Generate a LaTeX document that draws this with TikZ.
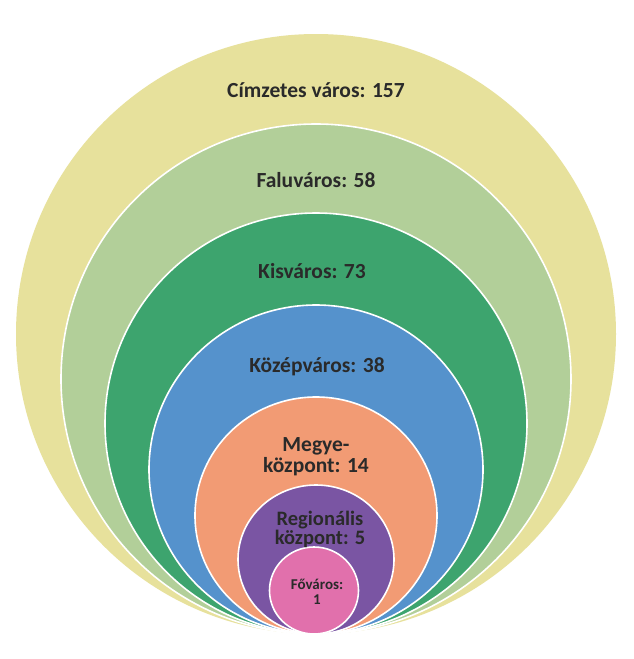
\documentclass[tikz,border=0pt]{standalone}
\usepackage{fontspec}
\setmainfont{Carlito}
\definecolor{cyel}{HTML}{E7E19C}
\definecolor{cfal}{HTML}{B2CF99}
\definecolor{ckis}{HTML}{3DA46E}
\definecolor{ckoz}{HTML}{5592CC}
\definecolor{cmeg}{HTML}{F29B74}
\definecolor{creg}{HTML}{7A55A3}
\definecolor{cfov}{HTML}{E170AC}
\definecolor{txt}{HTML}{2A2A2A}
\begin{document}
\begin{tikzpicture}[x=1pt,y=-1pt]
\tikzset{
  ring/.style={draw=white, line width=1.6pt},
  lbl/.style={font={\fontsize{21.5}{21}\selectfont\bfseries}, text=txt, align=center, inner sep=0pt},
  lblsmall/.style={lbl, font={\fontsize{20.5}{19}\selectfont\bfseries}},
  lbltiny/.style={lbl, font={\fontsize{15}{15}\selectfont\bfseries}},
}
\useasboundingbox[fill=white] (0,0) rectangle (634,659);
% nested circles, all touching at the bottom point (316,634)
\fill[cyel] (316,334) circle[radius=300pt];
\filldraw[ring, fill=cfal] (316,379) ellipse[x radius=255pt, y radius=255pt];
\filldraw[ring, fill=ckis] (316,423.5) ellipse[x radius=211pt, y radius=210.5pt];
\filldraw[ring, fill=ckoz] (316,469.5) ellipse[x radius=167pt, y radius=164.5pt];
\filldraw[ring, fill=cmeg] (316,515.5) ellipse[x radius=121pt, y radius=118.5pt];
\filldraw[ring, fill=creg] (316,559.5) ellipse[x radius=78pt, y radius=74.5pt];
\filldraw[ring, fill=cfov] (314,590.5) ellipse[x radius=44.5pt, y radius=43.5pt];
% labels
\node[lbl, anchor=base] (cim) at (316,97) {Címzetes város: 157};
\node[lbl, anchor=base] (fal) at (316,187) {Faluváros: 58};
\node[lbl, anchor=base] (kis) at (312,278) {Kisváros: 73};
\node[lbl, anchor=base] (koz) at (317,372) {Középváros: 38};
\node[lbl] (meg) at (316,457) {Megye-\\központ: 14};
\node[lblsmall] (reg) at (320,529.5) {Regionális\\központ: 5};
\node[lbltiny] (fov) at (317,592) {Főváros:\\1};
\end{tikzpicture}
\end{document}
